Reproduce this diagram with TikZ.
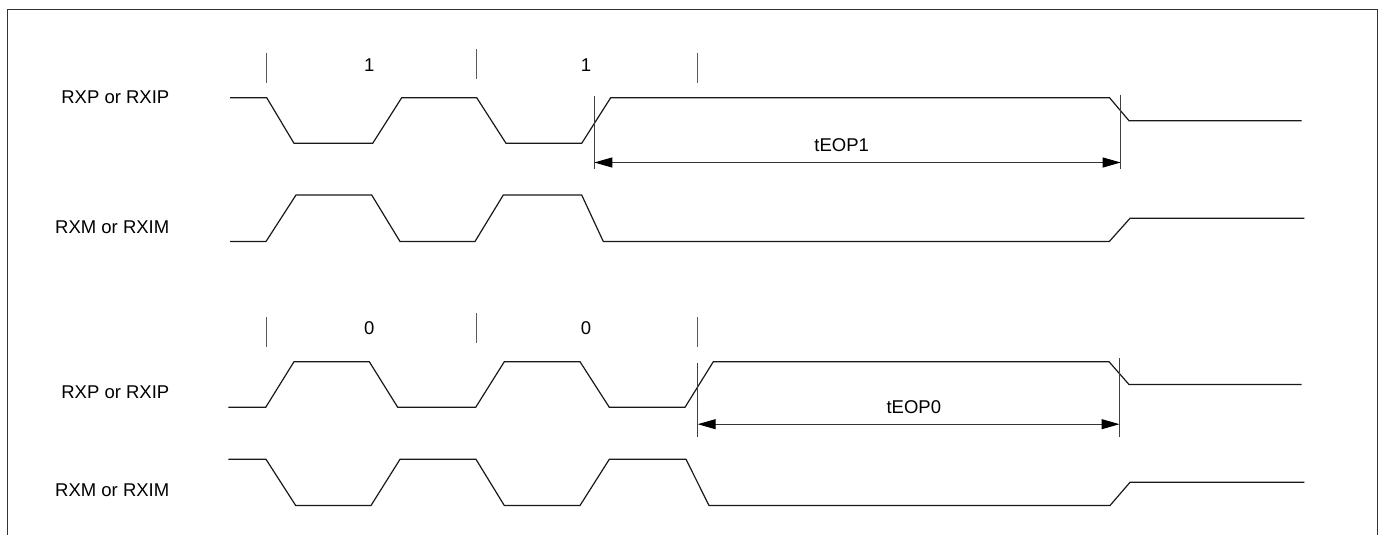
\documentclass[tikz,border=0pt]{standalone}
\usepackage{fontspec}
\setmainfont{Liberation Sans}
\usetikzlibrary{arrows.meta}
\tikzset{
  wave/.style={line width=1.2pt, black!90, line join=miter},
  tick/.style={line width=1pt, black!65},
  dimline/.style={line width=1pt, black!75},
  dimarrow/.style={line width=1pt, black!80, {Triangle[length=18pt,width=10pt,color=black]}-{Triangle[length=18pt,width=10pt,color=black]}},
  lbl/.style={font=\fontsize{18.5}{20}\selectfont, inner sep=0pt},
  frame/.style={line width=1pt, black!80}
}
\begin{document}
\begin{tikzpicture}[x=1pt,y=-1pt]
\useasboundingbox (0,0) rectangle (1384,535);
% frame (open at bottom)
\draw[frame] (7.3,535) -- (7.3,10) -- (1377.7,10) -- (1377.7,535);

% ---------- group 1 ----------
\node[lbl, anchor=base east] (l1) at (169.5,103.3) {RXP or RXIP};
\node[lbl, anchor=base east] (l2) at (169.5,233.3) {RXM or RXIM};
\node[lbl, anchor=base] (b1) at (369.3,71.7) {1};
\node[lbl, anchor=base] (b2) at (586,71.7) {1};
\draw[tick] (266.7,52.7) -- (266.7,82.7);
\draw[tick] (476.7,49.3) -- (476.7,79.3);
\draw[tick] (697.7,52.7) -- (697.7,82.7);

\draw[wave] (230,97.7) -- (266.7,97.7) -- (294,143.3) -- (372.7,143.3) -- (401.7,97.7)
  -- (476.7,97.7) -- (506,143.3) -- (581.7,143.3) -- (610.7,97.7) -- (1109.5,97.7)
  -- (1129,120.7) -- (1301.7,120.7);
\draw[wave] (230,241.5) -- (266,241.5) -- (296,195) -- (371.7,195) -- (400,241.5)
  -- (475,241.5) -- (503.3,195) -- (581.7,195) -- (603.3,241.5) -- (1109.3,241.5)
  -- (1130,218.3) -- (1304.3,218.3);

\draw[dimline] (594.3,96) -- (594.3,169.3);
\draw[dimline] (1120.7,94.7) -- (1120.7,169.3);
\coordinate (a1) at (594.3,162.5);
\coordinate (a2) at (1120.7,162.5);
\draw[dimarrow] (a1) -- (a2);
\node[lbl, anchor=base] (t1) at (841.7,151.7) {tEOP1};

% ---------- group 2 ----------
\node[lbl, anchor=base east] (l3) at (169.5,398.3) {RXP or RXIP};
\node[lbl, anchor=base east] (l4) at (169.5,496.7) {RXM or RXIM};
\node[lbl, anchor=base] (b3) at (369.3,334) {0};
\node[lbl, anchor=base] (b4) at (586,334) {0};
\draw[tick] (266.7,317.3) -- (266.7,347.3);
\draw[tick] (476.7,313.3) -- (476.7,343.3);
\draw[tick] (697.7,317) -- (697.7,347);

\draw[wave] (228.3,407.3) -- (265.7,407.3) -- (294,361.7) -- (369.3,361.7) -- (397.7,407.3)
  -- (475.7,407.3) -- (504.3,361.7) -- (580,361.7) -- (609.3,407.3) -- (685,407.3)
  -- (713.3,361.7) -- (1109,361.7) -- (1129,384.5) -- (1301.7,384.5);
\draw[wave] (228.3,459.3) -- (266,459.3) -- (295.7,505.5) -- (371,505.5) -- (400,459.3)
  -- (476,459.3) -- (504.3,505.5) -- (580,505.5) -- (609.3,459.3) -- (686,459.3)
  -- (709,505.5) -- (1110,505.5) -- (1130,482.3) -- (1304.3,482.3);

\draw[dimline] (697.7,363.3) -- (697.7,437.3);
\draw[dimline] (1119.5,358.3) -- (1119.5,437.3);
\coordinate (a3) at (697.7,424.2);
\coordinate (a4) at (1119.5,424.2);
\draw[dimarrow] (a3) -- (a4);
\node[lbl, anchor=base] (t2) at (913.8,413.3) {tEOP0};
\end{tikzpicture}
\end{document}
